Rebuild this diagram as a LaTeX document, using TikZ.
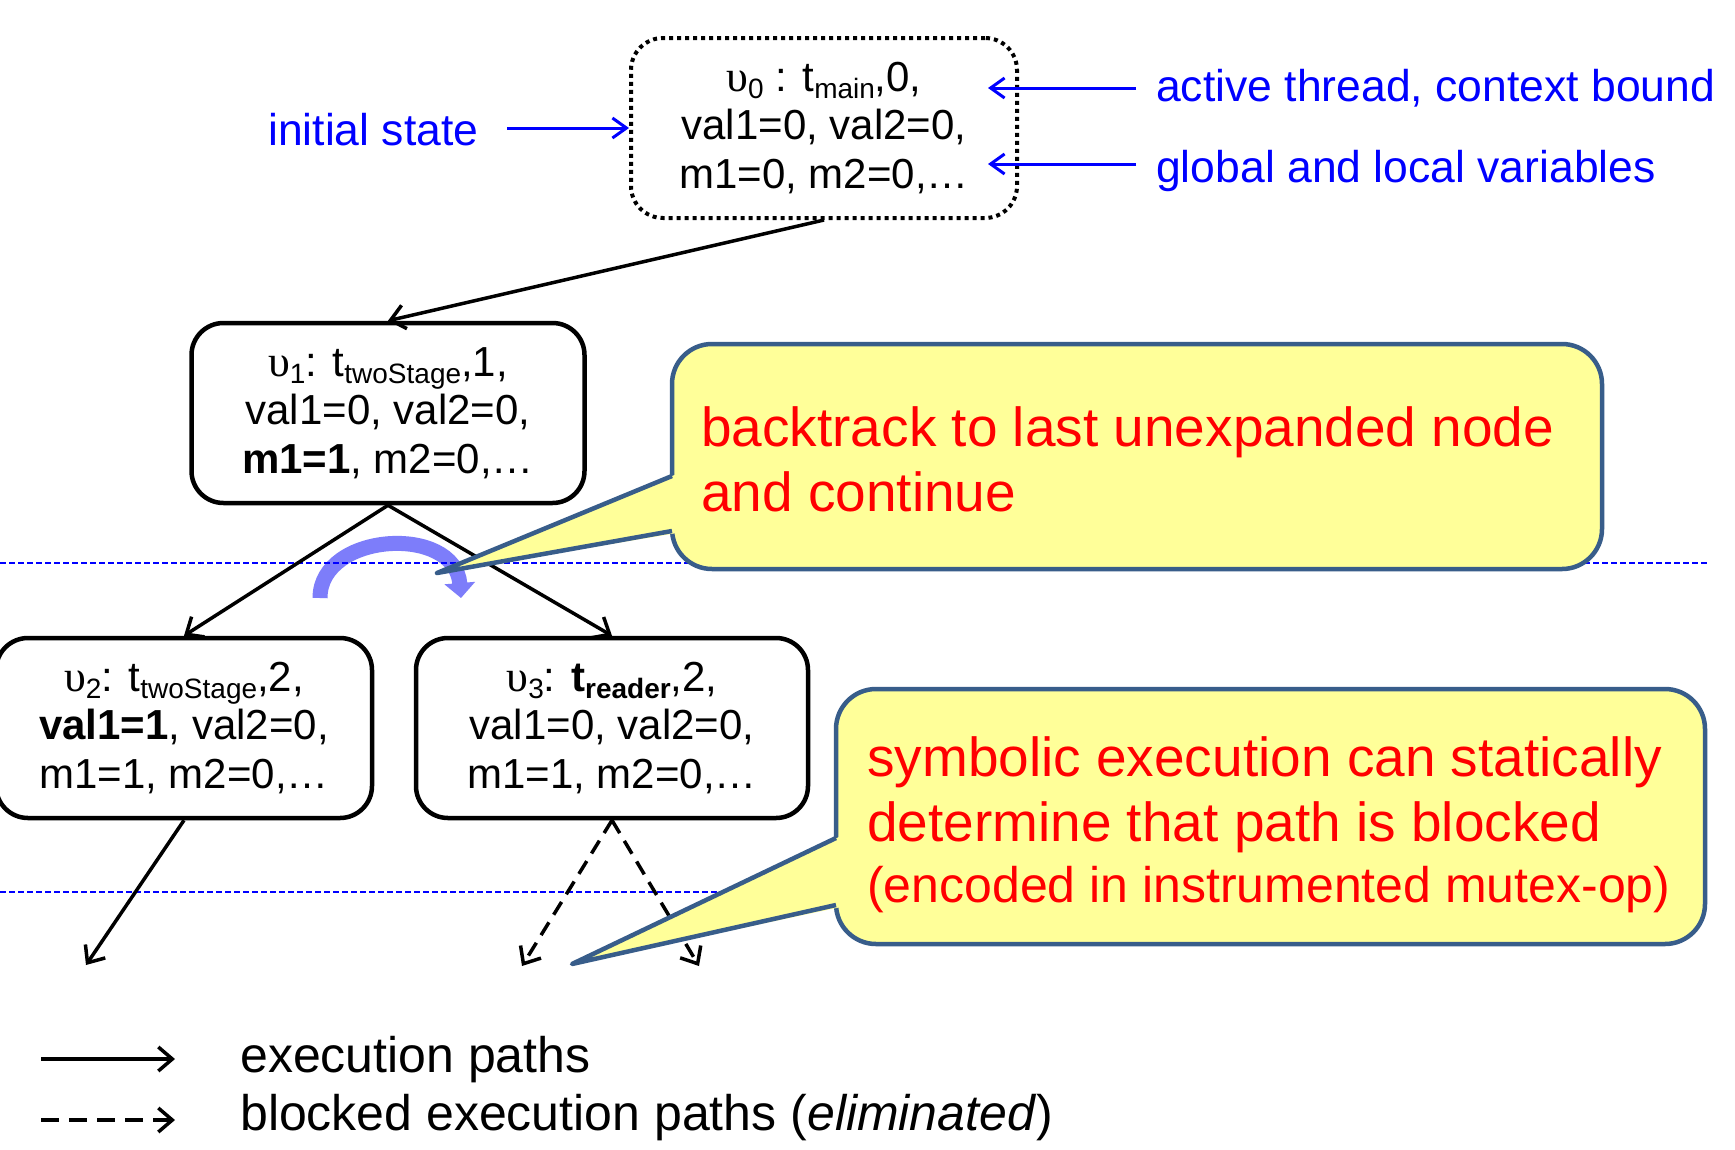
\documentclass[tikz,border=0pt]{standalone}
\usepackage{fontspec}
\setmainfont{Liberation Sans}
\newfontfamily\nodefont{Liberation Sans}
\newfontfamily\grkfont{Liberation Serif}
\usetikzlibrary{arrows.meta}
\definecolor{cborder}{RGB}{56,93,138}
\definecolor{cfill}{RGB}{255,255,153}
\definecolor{carc}{RGB}{125,125,250}
\newcommand\mysub[1]{\raisebox{-7pt}{\fontsize{28}{28}\selectfont #1}}
\newcommand\upsl[1]{{\grkfont\fontsize{44}{44}\selectfont υ}\mysub{#1}}
\begin{document}
\begin{tikzpicture}[x=1pt,y=-1pt,
  statebox/.style={draw=black, line width=4.5pt, rounded corners=32pt, minimum height=180pt, inner sep=0pt, align=center, font=\nodefont\fontsize{42}{48.5}\selectfont},
  dottedbox/.style={statebox, line width=4pt, dash pattern=on 4pt off 4pt},
  conn/.style={draw=black, line width=3.5pt, -{Straight Barb[length=14pt,width=24pt]}},
  dconn/.style={conn, dash pattern=on 15pt off 9pt},
  legdconn/.style={conn, dash pattern=on 18pt off 10pt},
  bluearr/.style={draw=blue, line width=3pt, -{Straight Barb[length=14pt,width=20pt]}},
  guide/.style={draw=blue, line width=2pt, dash pattern=on 6pt off 3pt},
  bluetxt/.style={text=blue, inner sep=0pt, font=\fontsize{44.5}{53}\selectfont},
  redtxt/.style={text=red, inner sep=0pt, font=\fontsize{55}{65}\selectfont},
  legtxt/.style={inner sep=0pt, font=\fontsize{50}{58}\selectfont},
  callout/.style={fill=cfill, draw=cborder, line width=4.5pt, rounded corners=40pt},
  pointeredge/.style={draw=cborder, line width=4.5pt, line join=round},
  ]
\useasboundingbox (0,0) rectangle (1735,1149);
\fill[white] (0,0) rectangle (1735,1149);

% backtrack arc arrow
\draw[carc, line width=15pt, -{Triangle[length=15pt,width=30pt]}]
  (320,598) .. controls (320,532) and (455,524) .. (461,598);

% guide lines
\coordinate (g1a) at (0,563); \coordinate (g1b) at (1707,563);
\coordinate (g2a) at (0,892); \coordinate (g2b) at (1707,892);
\draw[guide] (g1a) -- (g1b);
\draw[guide] (g2a) -- (g2b);

% state nodes
\node[dottedbox, minimum width=386pt] (v0) at (824,128)
  {\upsl{0} : t\mysub{main},0,\\val1=0, val2=0,\\m1=0, m2=0,…};
\node[statebox, minimum width=393pt] (v1) at (388,413)
  {\upsl{1}: t\mysub{twoStage},1,\\val1=0, val2=0,\\\textbf{m1=1}, m2=0,…};
\node[statebox, minimum width=376pt] (v2) at (184,728)
  {\upsl{2}: t\mysub{twoStage},2,\\\textbf{val1=1}, val2=0,\\m1=1, m2=0,…};
\node[statebox, minimum width=392pt] (v3) at (612,728)
  {\upsl{3}: \textbf{t\mysub{reader}},2,\\val1=0, val2=0,\\m1=1, m2=0,…};

% connectors
\coordinate (e2) at (86,965);
\coordinate (e3l) at (522,966);
\coordinate (e3r) at (699,966);
\draw[conn] (v0.south) -- (v1.north);
\draw[conn] (v1.south) -- (v2.north);
\draw[conn] (v1.south) -- (v3.north);
\draw[conn] (v2.south) -- (e2);
\draw[dconn] (v3.south) -- (e3l);
\draw[dconn] (v3.south) -- (e3r);

% blue annotations
\node[bluetxt, anchor=base west] (linit) at (268,145) {initial state};
\node[bluetxt, anchor=base west] (lact) at (1156,101) {active thread, context bound};
\node[bluetxt, anchor=base west] (lglob) at (1156,182) {global and local variables};
\coordinate (initS) at (507,128);
\coordinate (actS) at (1136,88); \coordinate (actE) at (988,88);
\coordinate (globS) at (1136,164); \coordinate (globE) at (988,164);
\draw[bluearr] (initS) -- (v0.west);
\draw[bluearr] (actS) -- (actE);
\draw[bluearr] (globS) -- (globE);

% callout 1
\path[callout] (672,344) rectangle (1602,569);
\fill[cfill] (437,573) -- (677,474) -- (677,533) -- cycle;
\draw[pointeredge] (672,476) -- (437,573) -- (672,531);
\node[redtxt, anchor=base west] (c1txt) at (701,446)
  {\begin{tabular}[t]{@{}l@{}}backtrack to last unexpanded node\\and continue\end{tabular}};

% callout 2
\path[callout] (836,689) rectangle (1705,944);
\fill[cfill] (572,964) -- (841,836) -- (841,907) -- cycle;
\draw[pointeredge] (836,838) -- (572,964) -- (836,905);
\node[redtxt, anchor=base west] (c2txt) at (867,776)
  {\begin{tabular}[t]{@{}l@{}}symbolic execution can statically\\determine that path is blocked\\[-4pt]{\fontsize{50}{60}\selectfont (encoded in instrumented mutex-op)}\end{tabular}};

% legend
\coordinate (leg1a) at (41,1059); \coordinate (leg1b) at (175,1059);
\coordinate (leg2a) at (41,1120); \coordinate (leg2b) at (175,1120);
\draw[conn] (leg1a) -- (leg1b);
\draw[legdconn] (leg2a) -- (leg2b);
\node[legtxt, anchor=base west] (legtxt) at (240,1072)
  {\begin{tabular}[t]{@{}l@{}}execution paths\\blocked execution paths (\emph{eliminated})\end{tabular}};
\end{tikzpicture}
\end{document}
